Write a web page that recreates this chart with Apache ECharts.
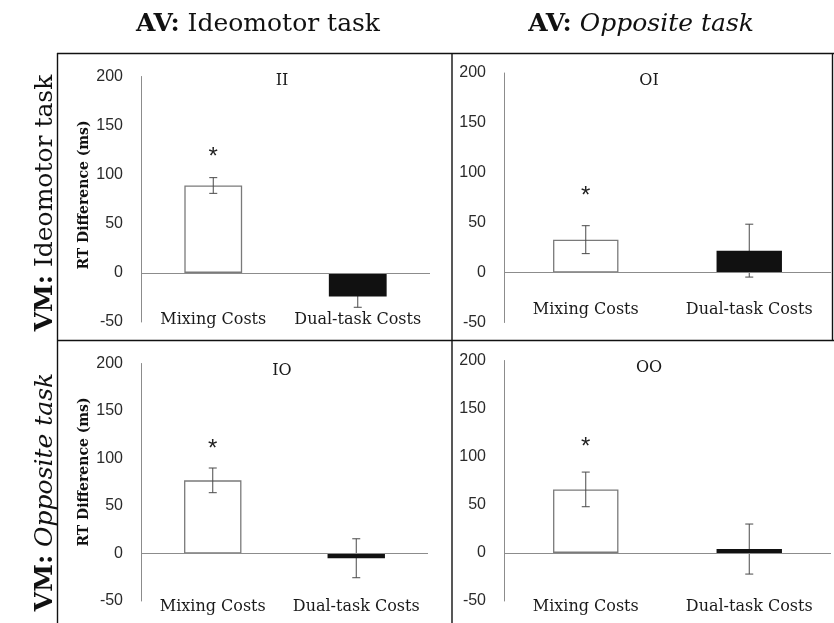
<!DOCTYPE html>
<html><head><meta charset="utf-8">
<script src="https://cdn.jsdelivr.net/npm/echarts@6/dist/echarts.min.js"></script>
<style>html,body{margin:0;padding:0;background:#fff}#c{width:834px;height:623px}</style>
</head><body><div id="c"></div>
<script>
// ---- data ----
const panelNames = ['II', 'OI', 'IO', 'OO'];
const categories = ['Mixing Costs', 'Dual-task Costs'];
const mixing = [89, 33, 77, 66];
const mixingErr = [8, 14, 13, 18];
const dual = [-24, 22, -5, 4];
const dualErr = [11, 26.5, 20.5, 26];
const sigY = [122, 80, 114, 114];
const yMin = -50, yMax = 200, yInterval = 50;
const colHeaders = [['AV:', 'Ideomotor task', false], ['AV:', 'Opposite task', true]];
const rowHeaders = [['VM:', 'Ideomotor task', false], ['VM:', 'Opposite task', true]];
const yAxisName = 'RT Difference (ms)';

// ---- layout ----
const grids = [
  {left: 141, right: 404, top: 76.5, bottom: 301},
  {left: 504, right: 3, top: 73, bottom: 300.5},
  {left: 141, right: 406, top: 363.5, bottom: 22},
  {left: 504, right: 3, top: 360.5, bottom: 22}
];
const labelMargins = [-2, -13, 6, 6];
const titlePos = [[282, 81], [649, 81], [282, 371], [649, 368]];
const colPos = [[258, 24], [641, 24]];
const rowPos = [[45, 203], [45, 492]];
const yNamePos = [[84, 195], [84, 472]];
const SERIF = 'DejaVu Serif';
const SANS = 'Liberation Sans';

const chart = echarts.init(document.getElementById('c'), null, {renderer: 'canvas'});

const xAxis = [], yAxis = [], series = [];
panelNames.forEach((p, i) => {
  xAxis.push({
    type: 'category', gridIndex: i, data: categories,
    axisLine: {show: false}, axisTick: {show: false},
    axisLabel: {interval: 0, hideOverlap: false, margin: labelMargins[i], verticalAlign: 'middle', fontFamily: SERIF, fontSize: 16, color: '#1a1a1a'}
  });
  yAxis.push({
    type: 'value', gridIndex: i, min: yMin, max: yMax, interval: yInterval,
    axisLine: {show: true, lineStyle: {color: '#8c8c8c', width: 1}},
    axisTick: {show: false}, splitLine: {show: false},
    axisLabel: {margin: 18, fontFamily: SANS, fontSize: 16, color: '#2a2a2a'}
  });
  series.push({
    type: 'bar', xAxisIndex: i, yAxisIndex: i, z: 1,
    data: [mixing[i], '-'], barWidth: '40%', barGap: '-100%',
    itemStyle: {color: '#fff', borderColor: '#7a7a7a', borderWidth: 1.3},
    markLine: {silent: true, symbol: ['none', 'none'], label: {show: false},
      lineStyle: {color: '#8c8c8c', type: 'solid', width: 1}, data: [{yAxis: 0}]},
    animation: false
  });
  series.push({
    type: 'bar', xAxisIndex: i, yAxisIndex: i, z: 3,
    data: ['-', dual[i]], barWidth: '40%', barGap: '-100%',
    itemStyle: {color: '#111'}, animation: false
  });
  series.push({
    type: 'custom', xAxisIndex: i, yAxisIndex: i, z: 2,
    data: [[0, mixing[i], mixingErr[i], sigY[i]], [1, dual[i], dualErr[i], null]],
    renderItem: function (params, api) {
      const c = api.value(0), v = api.value(1), e = api.value(2);
      const hi = api.coord([c, v + e]), lo = api.coord([c, v - e]);
      const cap = 4, st = {stroke: '#4a4a4a', lineWidth: 1};
      const children = [
        {type: 'line', shape: {x1: hi[0], y1: hi[1], x2: lo[0], y2: lo[1]}, style: st},
        {type: 'line', shape: {x1: hi[0] - cap, y1: hi[1], x2: hi[0] + cap, y2: hi[1]}, style: st},
        {type: 'line', shape: {x1: lo[0] - cap, y1: lo[1], x2: lo[0] + cap, y2: lo[1]}, style: st}
      ];
      const s = api.value(3);
      if (c === 0 && !isNaN(s)) {
        const sp = api.coord([c, s]);
        children.push({type: 'text', x: sp[0], y: sp[1] + 4,
          style: {text: '*', fontFamily: SANS, fontSize: 24, fill: '#222', align: 'center', verticalAlign: 'middle'}});
      }
      return {type: 'group', children: children};
    },
    animation: false
  });
});

const graphic = [];
// frame
const fl = {stroke: '#111', lineWidth: 1.4};
[[57, 53.5, 834, 53.5], [57.5, 53, 57.5, 623], [452, 53, 452, 623], [57, 340.5, 834, 340.5], [832.5, 53, 832.5, 340]]
  .forEach(l => graphic.push({type: 'line', shape: {x1: l[0], y1: l[1], x2: l[2], y2: l[3]}, style: fl, silent: true}));
// panel titles
panelNames.forEach((p, i) => graphic.push({type: 'text', x: titlePos[i][0], y: titlePos[i][1],
  style: {text: p, fontFamily: SERIF, fontSize: 16, fill: '#1a1a1a', align: 'center', verticalAlign: 'middle'}}));
// y axis names (left column)
yNamePos.forEach(pos => graphic.push({type: 'text', x: pos[0], y: pos[1], rotation: Math.PI / 2,
  style: {text: yAxisName, fontFamily: SERIF, fontWeight: 'bold', fontSize: 14, fill: '#111', align: 'center', verticalAlign: 'middle'}}));
function header(h) {
  return {
    text: '{b|' + h[0] + '} {' + (h[2] ? 'i' : 'n') + '|' + h[1] + '}',
    rich: {
      b: {fontFamily: SERIF, fontWeight: 'bold', fontSize: 25, fill: '#111'},
      n: {fontFamily: SERIF, fontSize: 25, fill: '#111'},
      i: {fontFamily: SERIF, fontStyle: 'italic', fontSize: 25, fill: '#111'}
    },
    fontFamily: SERIF, fontSize: 25, align: 'center', verticalAlign: 'middle'
  };
}
colHeaders.forEach((h, i) => graphic.push({type: 'text', x: colPos[i][0], y: colPos[i][1], style: header(h)}));
rowHeaders.forEach((h, i) => graphic.push({type: 'text', x: rowPos[i][0], y: rowPos[i][1], rotation: Math.PI / 2, style: header(h)}));

chart.setOption({
  animation: false,
  grid: grids.map(g => Object.assign({containLabel: false}, g)),
  xAxis: xAxis, yAxis: yAxis, series: series, graphic: graphic
});
</script></body></html>
